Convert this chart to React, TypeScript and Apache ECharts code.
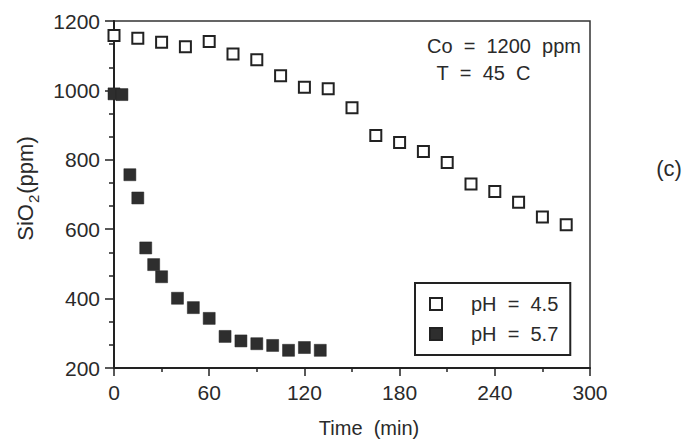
import React, { useEffect, useRef } from "react";
import * as echarts from "echarts";

// pH = 4.5 (open squares)
const timeOpen = [0, 15, 30, 45, 60, 75, 90, 105, 120, 135, 150, 165, 180, 195, 210, 225, 240, 255, 270, 285];
const sio2Open = [1158, 1150, 1139, 1126, 1141, 1105, 1088, 1042, 1009, 1005, 950, 870, 850, 824, 792, 730, 709, 678, 635, 613];

// pH = 5.7 (filled squares)
const timeFilled = [0, 5, 10, 15, 20, 25, 30, 40, 50, 60, 70, 80, 90, 100, 110, 120, 130];
const sio2Filled = [990, 988, 757, 690, 546, 498, 463, 401, 374, 343, 291, 278, 270, 265, 251, 259, 251];

const xTicks = [0, 60, 120, 180, 240, 300];
const yTicks = [200, 400, 600, 800, 1000, 1200];

const seriesNames = ["pH\u00a0\u00a0=\u00a0\u00a04.5", "pH\u00a0\u00a0=\u00a0\u00a05.7"];
const annotation1 = "Co\u00a0\u00a0=\u00a0\u00a01200\u00a0\u00a0ppm";
const annotation2 = "T\u00a0\u00a0=\u00a0\u00a045\u00a0\u00a0C";
const xName = "Time\u00a0\u00a0(min)";
const panelLabel = "(c)";

const FONT = "'Liberation Sans', Arial, Helvetica, sans-serif";
const INK = "#2a2a2a";

export default function App() {
  const ref = useRef<HTMLDivElement>(null);
  useEffect(() => {
    if (!ref.current) return;
    const chart = echarts.init(ref.current, undefined, { renderer: "svg" });
    const openData = timeOpen.map((t, i) => [t, sio2Open[i]]);
    const filledData = timeFilled.map((t, i) => [t, sio2Filled[i]]);
    chart.setOption({
      animation: false,
      backgroundColor: "#ffffff",
      textStyle: { fontFamily: FONT },
      grid: {
        left: 114,
        top: 21,
        width: 476,
        height: 349,
        show: true,
        borderColor: "#333",
        borderWidth: 1.5,
        backgroundColor: "transparent",
      },
      xAxis: {
        type: "value",
        min: xTicks[0],
        max: xTicks[xTicks.length - 1],
        interval: 60,
        name: xName,
        nameLocation: "middle",
        nameGap: 50,
        nameTextStyle: { fontSize: 20, color: INK, fontFamily: FONT, padding: [0, 0, 0, 34] },
        axisLine: { show: true, lineStyle: { color: "#222", width: 2 } },
        axisTick: { show: true, inside: false, length: 8, lineStyle: { color: "#222", width: 1.5 } },
        minorTick: { show: true, splitNumber: 2, length: 4, lineStyle: { color: "#222", width: 1.5 } },
        splitLine: { show: false },
        axisLabel: { fontSize: 21, color: INK, margin: 14, fontFamily: FONT, formatter: (v: number) => String(v) },
      },
      yAxis: {
        type: "value",
        min: yTicks[0],
        max: yTicks[yTicks.length - 1],
        interval: 200,
        name: "{a|SiO}{b|2}{a|(ppm)}",
        nameLocation: "middle",
        nameGap: 77,
        nameRotate: 90,
        nameTextStyle: {
          color: INK,
          fontFamily: FONT,
          padding: [0, 0, 0, 12],
          rich: {
            a: { fontSize: 22, color: INK, fontFamily: FONT, lineHeight: 24 },
            b: { fontSize: 15, color: INK, fontFamily: FONT, lineHeight: 24, verticalAlign: "bottom", padding: [0, 1, -4, 1] },
          },
        },
        axisLine: { show: true, lineStyle: { color: "#222", width: 2 } },
        axisTick: { show: true, inside: false, length: 9, lineStyle: { color: "#222", width: 1.5 } },
        minorTick: { show: true, splitNumber: 3, length: 5, lineStyle: { color: "#222", width: 1.5 } },
        splitLine: { show: false },
        axisLabel: { fontSize: 21, color: INK, margin: 14, fontFamily: FONT, formatter: (v: number) => String(v) },
      },
      legend: {
        orient: "vertical",
        left: 415,
        top: 283,
        padding: [11, 12, 11, 14],
        itemWidth: 12,
        itemHeight: 12,
        itemGap: 10,
        borderColor: "#222",
        borderWidth: 2,
        backgroundColor: "#fff",
        data: [
          { name: seriesNames[0], icon: "rect" },
          { name: seriesNames[1], icon: "rect" },
        ],
        textStyle: { fontSize: 20, color: INK, fontFamily: FONT, lineHeight: 20, padding: [0, 0, 0, 24] },
      },
      graphic: [
        {
          type: "text",
          x: 504,
          y: 45.5,
          style: { text: annotation1, fontSize: 20, fill: INK, font: `20px ${FONT}`, textAlign: "center", textVerticalAlign: "middle" },
        },
        {
          type: "text",
          x: 483.5,
          y: 72.5,
          style: { text: annotation2, fontSize: 20, fill: INK, font: `20px ${FONT}`, textAlign: "center", textVerticalAlign: "middle" },
        },
        {
          type: "text",
          x: 669,
          y: 168,
          style: { text: panelLabel, fontSize: 22, fill: INK, font: `22px ${FONT}`, textAlign: "center", textVerticalAlign: "middle" },
        },
      ],
      series: [
        {
          name: seriesNames[0],
          type: "scatter",
          symbol: "rect",
          symbolSize: 11,
          data: openData,
          itemStyle: { color: "#ffffff", borderColor: "#222222", borderWidth: 2, opacity: 1 },
          z: 3,
        },
        {
          name: seriesNames[1],
          type: "scatter",
          symbol: "rect",
          symbolSize: 12,
          data: filledData,
          itemStyle: { color: "#2e2e2e", borderColor: "#222222", borderWidth: 0.5, opacity: 1 },
          z: 4,
        },
      ],
    });
    return () => chart.dispose();
  }, []);
  return (
    <div
      ref={ref}
      style={{ position: "fixed", left: 0, top: 0, width: 689, height: 443, background: "#fff" }}
    />
  );
}
